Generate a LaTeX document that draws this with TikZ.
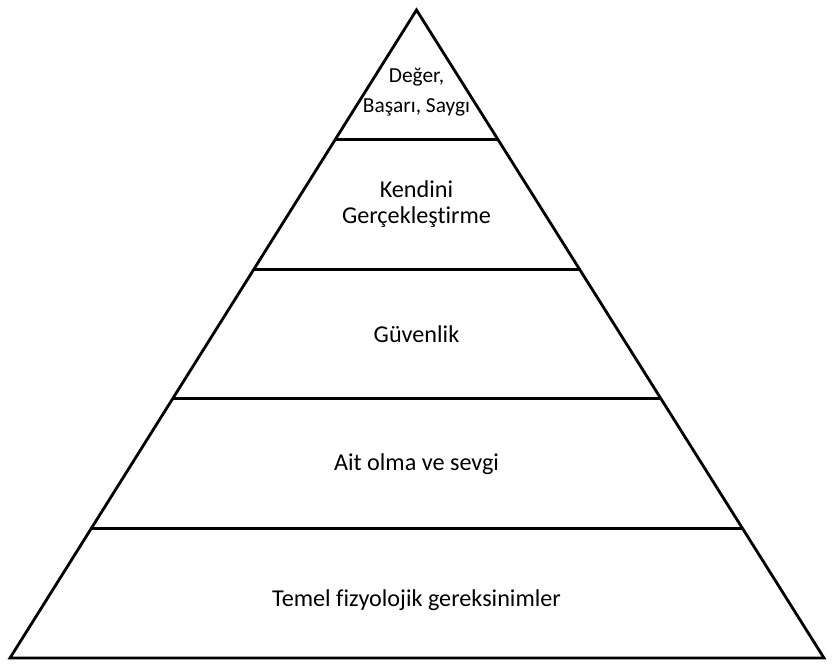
\documentclass[tikz,border=0pt]{standalone}
\usepackage{fontspec}
\setmainfont[Ligatures=NoCommon]{Carlito}
\usepackage{tikz}
\usetikzlibrary{calc}
\tikzset{
	edge/.style={line width=2.8pt, line join=miter},
	txt/.style={inner sep=0pt, anchor=base, font=\fontsize{24.2}{28}\selectfont},
	small/.style={txt, font=\fontsize{21.4}{26}\selectfont}
}

\begin{document}
\begin{tikzpicture}[x=1pt,y=-1pt]
		\useasboundingbox (0,0) rectangle (838,666);
		% outline
		\coordinate (top) at (416.5,10);
		\coordinate (bl) at (10,658);
		\coordinate (br) at (824,658);
		\draw[edge] (top) -- (bl) -- (br) -- cycle;
		
		% levels
		\foreach \t in {0.2,0.4,0.6,0.8}
		\draw[edge] ($(top)!\t!(bl)$) -- ($(top)!\t!(br)$);
		
		% texts
		\node[small] (deger) at (416.5,83) {Değer,};
		\node[small] (basari) at (416.5,113) {Başarı, Saygı};
		\node[txt] (kendini) at (416.5,197) {Kendini};
		\node[txt] (gercek) at (416.5,223) {Gerçekleştirme};
		\node[txt] (guven) at (416.5,342) {Güvenlik};
		\node[txt] (ait) at (416.5,470) {Ait olma ve sevgi};
		\node[txt] (temel) at (416.5,606) {Temel fizyolojik gereksinimler};
	\end{tikzpicture}
\end{document}
